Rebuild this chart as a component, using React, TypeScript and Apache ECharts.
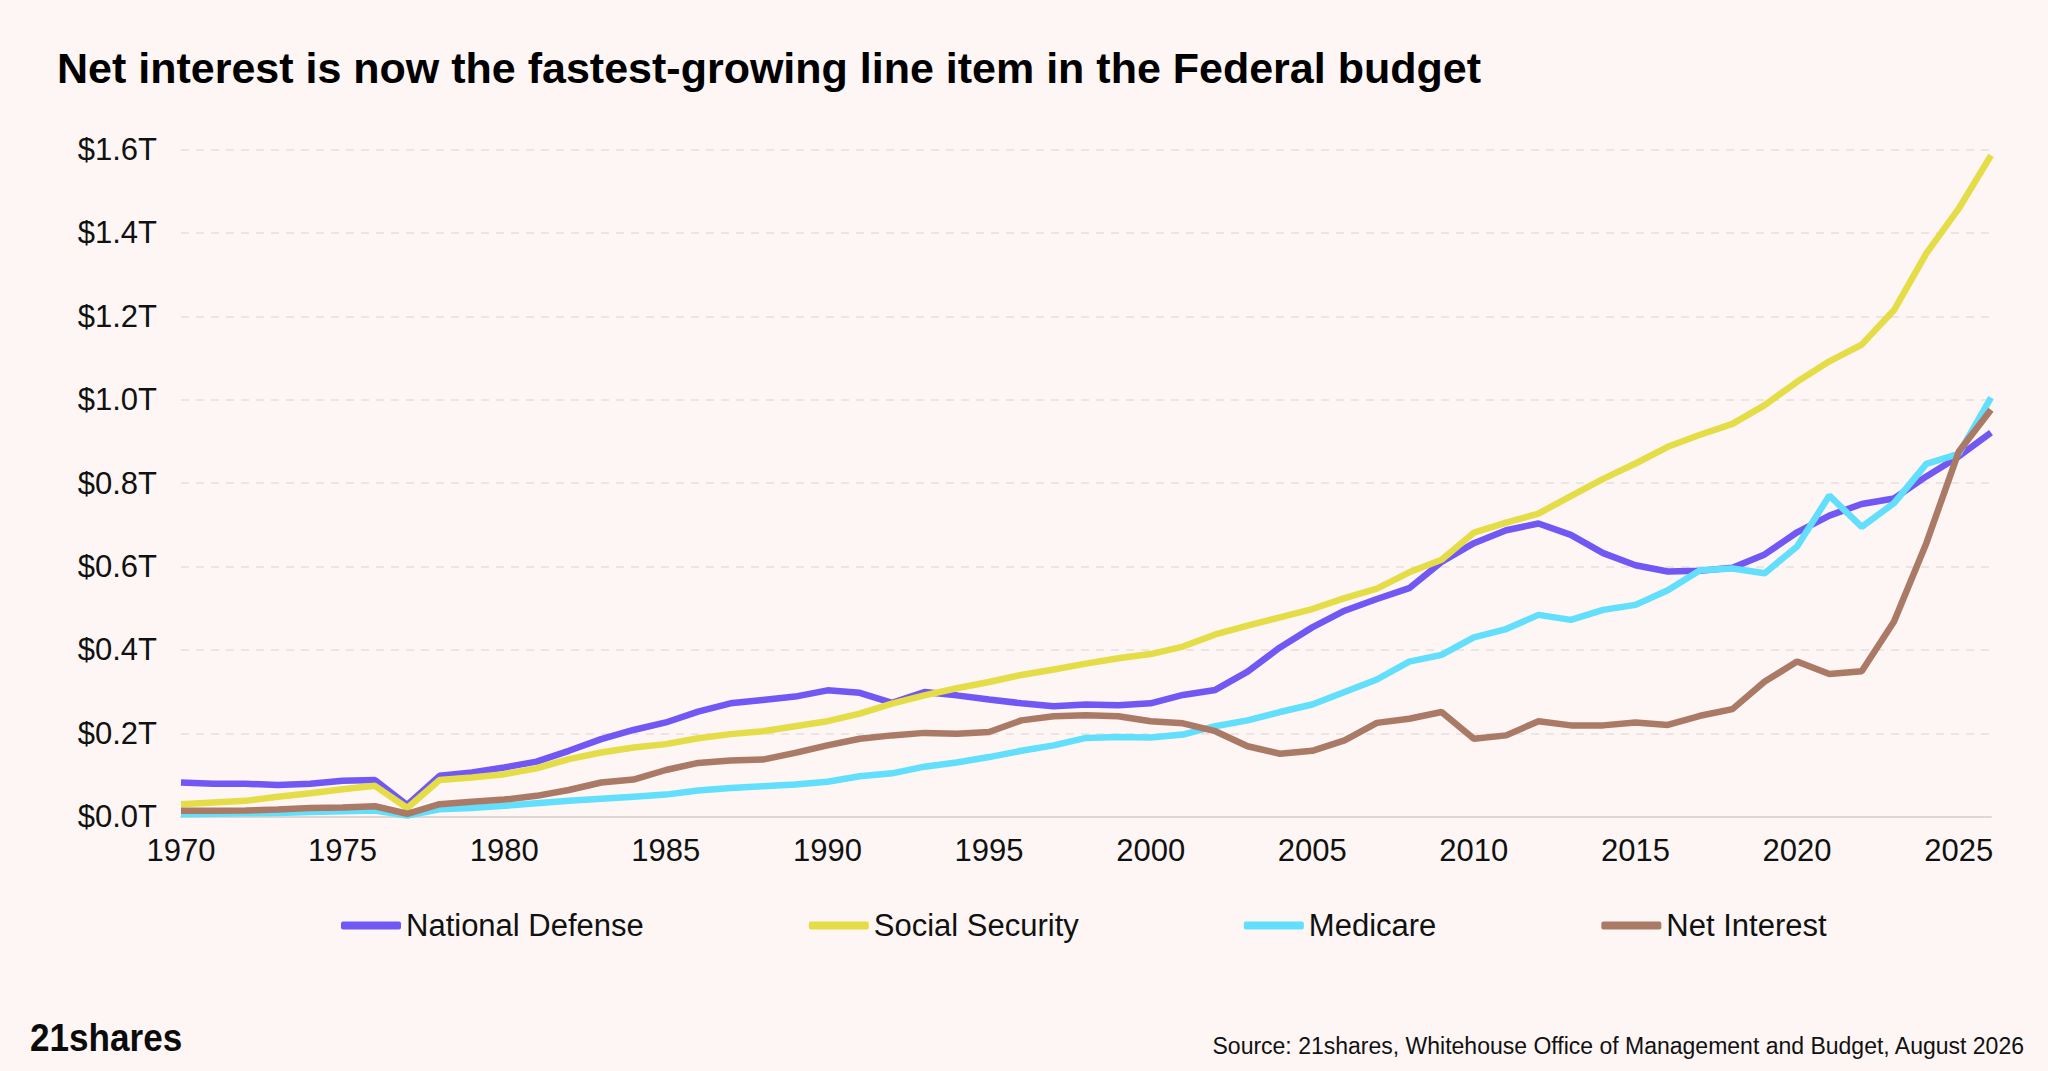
import { useEffect, useRef } from 'react'
import * as echarts from 'echarts'

const FONT = '"Liberation Sans", Arial, sans-serif'

const years: string[] = []
for (let y = 1970; y <= 2026; y++) years.push(String(y))

// Outlays in trillions of dollars (1970 … 2026)
const nationalDefense = [
  0.082, 0.079, 0.079, 0.076, 0.079, 0.086, 0.088, 0.028, 0.098, 0.106,
  0.118, 0.132, 0.158, 0.186, 0.208, 0.226, 0.252, 0.272, 0.280, 0.288,
  0.303, 0.297, 0.273, 0.299, 0.291, 0.281, 0.272, 0.265, 0.269, 0.267,
  0.272, 0.292, 0.304, 0.348, 0.406, 0.454, 0.494, 0.522, 0.548, 0.611,
  0.656, 0.687, 0.703, 0.676, 0.632, 0.603, 0.588, 0.590, 0.597, 0.629,
  0.682, 0.722, 0.750, 0.763, 0.816, 0.864, 0.921,
]

const socialSecurity = [
  0.030, 0.034, 0.038, 0.048, 0.056, 0.066, 0.074, 0.021, 0.088, 0.094,
  0.102, 0.116, 0.138, 0.154, 0.166, 0.174, 0.188, 0.198, 0.205, 0.217,
  0.229, 0.247, 0.271, 0.291, 0.308, 0.323, 0.340, 0.353, 0.367, 0.380,
  0.390, 0.408, 0.437, 0.458, 0.478, 0.498, 0.524, 0.547, 0.586, 0.616,
  0.681, 0.705, 0.727, 0.769, 0.810, 0.847, 0.887, 0.916, 0.942, 0.987,
  1.043, 1.092, 1.132, 1.215, 1.351, 1.458, 1.586,
]

const medicare = [
  0.006, 0.007, 0.008, 0.009, 0.011, 0.013, 0.015, 0.003, 0.018, 0.021,
  0.026, 0.032, 0.038, 0.043, 0.048, 0.053, 0.063, 0.069, 0.073, 0.077,
  0.084, 0.097, 0.104, 0.120, 0.130, 0.143, 0.158, 0.171, 0.189, 0.191,
  0.190, 0.197, 0.217, 0.231, 0.251, 0.269, 0.299, 0.329, 0.372, 0.388,
  0.430, 0.450, 0.484, 0.472, 0.496, 0.508, 0.543, 0.591, 0.595, 0.584,
  0.648, 0.770, 0.695, 0.752, 0.846, 0.870, 1.005,
]

const netInterest = [
  0.014, 0.014, 0.015, 0.017, 0.021, 0.022, 0.025, 0.007, 0.030, 0.036,
  0.041, 0.050, 0.064, 0.082, 0.089, 0.112, 0.129, 0.135, 0.137, 0.153,
  0.171, 0.187, 0.195, 0.201, 0.199, 0.203, 0.231, 0.241, 0.243, 0.241,
  0.229, 0.224, 0.205, 0.169, 0.151, 0.158, 0.183, 0.225, 0.235, 0.251,
  0.187, 0.195, 0.229, 0.219, 0.219, 0.226, 0.220, 0.242, 0.258, 0.324,
  0.372, 0.342, 0.349, 0.468, 0.656, 0.875, 0.976,
]

const seriesList = [
  { name: 'National Defense', data: nationalDefense, color: '#7158F5' },
  { name: 'Social Security', data: socialSecurity, color: '#E5DD47' },
  { name: 'Medicare', data: medicare, color: '#62DFFC' },
  { name: 'Net Interest', data: netInterest, color: '#AA7A66' },
]

const title = 'Net interest is now the fastest-growing line item in the Federal budget'
const source = 'Source: 21shares, Whitehouse Office of Management and Budget, August 2026'

export default function App() {
  const chartRef = useRef<HTMLDivElement>(null)

  useEffect(() => {
    if (!chartRef.current) return
    document.body.style.margin = '0'

    const chart = echarts.init(chartRef.current, null, { renderer: 'svg' })

    chart.setOption({
      animation: false,
      backgroundColor: '#FDF6F4',
      textStyle: { fontFamily: FONT },
      grid: { left: 181, right: 57, top: 149.5, bottom: 254.3 },
      legend: {
        left: 336,
        top: 905,
        icon: 'roundRect',
        itemWidth: 60,
        itemHeight: 8,
        itemGap: 165,
        textStyle: { fontSize: 31, color: '#111', fontFamily: FONT },
        data: seriesList.map(s => s.name),
      },
      xAxis: {
        type: 'category',
        data: years,
        boundaryGap: false,
        axisTick: { show: false },
        axisLine: { lineStyle: { color: '#DDD7D5', width: 2 } },
        axisLabel: {
          interval: 4,
          margin: 18,
          fontSize: 31,
          color: '#111',
          fontFamily: FONT,
        },
        splitLine: { show: false },
      },
      yAxis: {
        type: 'value',
        min: 0,
        max: 1.6,
        interval: 0.2,
        axisLine: { show: false },
        axisTick: { show: false },
        axisLabel: {
          margin: 24,
          fontSize: 31,
          color: '#111',
          fontFamily: FONT,
          formatter: (v: number) => `$${v.toFixed(1)}T`,
        },
        splitLine: { lineStyle: { color: '#E6E0DE', width: 1.5, type: [8, 7] } },
      },
      series: seriesList.map(s => ({
        name: s.name,
        type: 'line',
        data: s.data,
        symbol: 'none',
        showSymbol: false,
        lineStyle: { color: s.color, width: 6.5 },
        itemStyle: { color: s.color },
      })),
      graphic: [
        {
          type: 'text',
          left: 57,
          top: 46,
          style: {
            text: title,
            fontSize: 43,
            fontWeight: 'bold',
            fontFamily: FONT,
            fill: '#000',
          },
        },
        {
          type: 'text',
          x: 30,
          y: 1037,
          scaleX: 0.9,
          style: {
            text: '21shares',
            fontSize: 39,
            fontWeight: 'bold',
            fontFamily: FONT,
            fill: '#0B0B0B',
            verticalAlign: 'middle',
          },
        },
        {
          type: 'text',
          x: 2024,
          y: 1046,
          style: {
            text: source,
            fontSize: 23,
            fontFamily: FONT,
            fill: '#111',
            align: 'right',
            verticalAlign: 'middle',
          },
        },
      ],
    })

    return () => {
      chart.dispose()
    }
  }, [])

  return <div ref={chartRef} style={{ width: 2048, height: 1071 }} />
}
